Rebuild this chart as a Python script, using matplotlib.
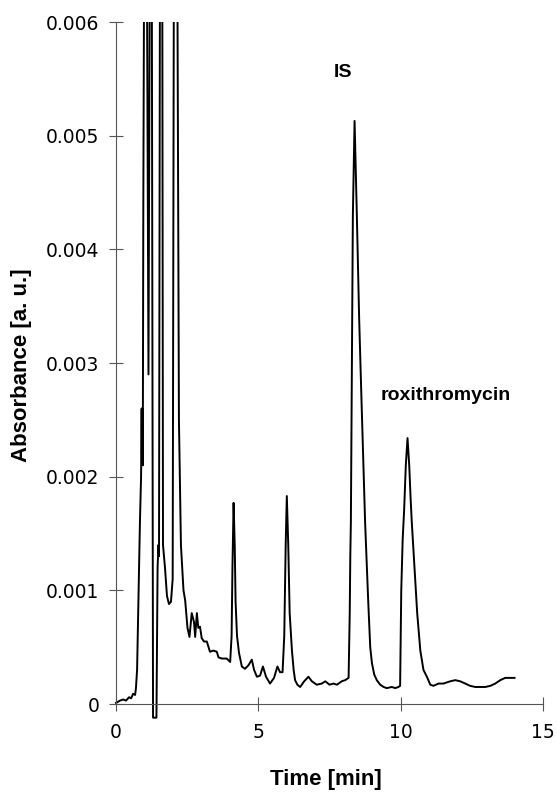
import numpy as np
import matplotlib
matplotlib.use("Agg")
import matplotlib.pyplot as plt
from matplotlib.patches import Rectangle

# chromatogram trace (time in min, absorbance in a.u.)
# values above 0.006 are the off-scale solvent front peaks
time_min = [
    0.00, 0.14, 0.25, 0.35, 0.46, 0.53, 0.60, 0.67, 0.70, 0.74,
    0.77, 0.81, 0.84, 0.88, 0.90, 0.91, 0.92, 0.94, 0.96, 1.00,
    1.07, 1.14, 1.20, 1.25, 1.30, 1.42, 1.46, 1.49, 1.51, 1.55,
    1.62, 1.65, 1.72, 1.79, 1.86, 1.93, 1.99, 2.04, 2.14, 2.21,
    2.28, 2.37, 2.43, 2.51, 2.58, 2.66, 2.74, 2.78, 2.84, 2.89,
    2.95, 3.01, 3.09, 3.19, 3.30, 3.42, 3.54, 3.60, 3.72, 3.89,
    4.01, 4.06, 4.09, 4.13, 4.17, 4.20, 4.25, 4.32, 4.42, 4.53,
    4.65, 4.77, 4.85, 4.95, 5.06, 5.16, 5.27, 5.41, 5.55, 5.67,
    5.76, 5.85, 5.91, 5.96, 6.00, 6.05, 6.10, 6.18, 6.24, 6.29,
    6.37, 6.47, 6.61, 6.76, 6.88, 7.05, 7.23, 7.35, 7.50, 7.64,
    7.76, 7.93, 8.05, 8.17, 8.21, 8.23, 8.25, 8.28, 8.32, 8.38,
    8.46, 8.54, 8.62, 8.75, 8.79, 8.86, 8.93, 8.99, 9.07, 9.16,
    9.28, 9.40, 9.51, 9.69, 9.81, 9.92, 9.98, 10.02, 10.07, 10.12,
    10.18, 10.24, 10.30, 10.35, 10.39, 10.45, 10.51, 10.58, 10.69, 10.80,
    10.92, 11.04, 11.15, 11.33, 11.50, 11.74, 11.92, 12.09, 12.27, 12.44,
    12.62, 12.79, 12.97, 13.15, 13.32, 13.50, 13.67, 13.85, 14.00,
]
absorbance = [
    0.00001, 0.00003, 0.00004, 0.00003, 0.00006, 0.00005, 0.00009, 0.00008, 0.00014, 0.0003,
    0.0007, 0.0012, 0.0016, 0.0020, 0.0026, 0.0022, 0.0026, 0.0021, 0.0045, 0.0075,
    0.0075, 0.0029, 0.0075, 0.0075, -0.00012, -0.00012, 0.0012, 0.0014, 0.0013, 0.0075,
    0.0075, 0.0014, 0.0012, 0.00095, 0.00088, 0.0009, 0.0011, 0.0075, 0.0075, 0.0025,
    0.0014, 0.0010, 0.00091, 0.00067, 0.00059, 0.0008, 0.00072, 0.00059, 0.0008, 0.00067,
    0.00068, 0.00058, 0.00055, 0.00055, 0.00046, 0.00047, 0.00046, 0.00041, 0.0004, 0.0004,
    0.00037, 0.0006, 0.0012, 0.00177, 0.0014, 0.0009, 0.0006, 0.00045, 0.00033, 0.00031,
    0.00034, 0.00039, 0.0003, 0.00024, 0.00025, 0.00033, 0.00024, 0.00018, 0.00023, 0.00033,
    0.00028, 0.00028, 0.0006, 0.0014, 0.00183, 0.0014, 0.0008, 0.00047, 0.0003, 0.00021,
    0.00017, 0.00015, 0.0002, 0.00024, 0.0002, 0.00017, 0.00018, 0.0002, 0.00017, 0.00018,
    0.00017, 0.0002, 0.00021, 0.00023, 0.0008, 0.0013, 0.0016, 0.0028, 0.0043, 0.00513,
    0.0043, 0.0034, 0.0027, 0.0016, 0.00135, 0.0009, 0.0005, 0.00036, 0.00026, 0.00021,
    0.00017, 0.00015, 0.00014, 0.00015, 0.00014, 0.00015, 0.00016, 0.0010, 0.00145, 0.0017,
    0.0021, 0.00234, 0.0021, 0.0018, 0.0016, 0.00135, 0.0011, 0.0008, 0.00047, 0.0003,
    0.00024, 0.00017, 0.00016, 0.00018, 0.00018, 0.0002, 0.00021, 0.0002, 0.00018, 0.00016,
    0.00015, 0.00015, 0.00015, 0.00016, 0.00018, 0.00021, 0.00023, 0.00023, 0.00023,
]

x_ticks = [0, 5, 10, 15]
y_ticks = [0, 0.001, 0.002, 0.003, 0.004, 0.005, 0.006]
y_tick_labels = ["0", "0.001", "0.002", "0.003", "0.004", "0.005", "0.006"]

peak_labels = ["IS", "roxithromycin"]
peak_label_pos = [(7.98, 0.00556), (11.6, 0.00271)]

fig = plt.figure(figsize=(5.57, 7.93), dpi=100)
ax = fig.add_axes([0.2083, 0.1122, 0.7666, 0.86])

line, = ax.plot(time_min, absorbance, color="black", lw=1.4)
# let the dips below zero show under the axis, but cut the tall peaks at the top
line.set_clip_path(Rectangle((-0.01, -0.04), 1.02, 1.04, transform=ax.transAxes))

ax.set_xlim(0, 15)
ax.set_ylim(0, 0.006)
ax.set_xticks(x_ticks)
ax.set_xticklabels([str(t) for t in x_ticks])
ax.set_yticks(y_ticks)
ax.set_yticklabels(y_tick_labels)

for side in ["top", "right"]:
    ax.spines[side].set_visible(False)
for side in ["left", "bottom"]:
    ax.spines[side].set_color("#555555")
    ax.spines[side].set_linewidth(0.8)

ax.tick_params(axis="both", direction="inout", length=10, width=0.8, color="#555555",
               labelsize=13.5, labelcolor="black")
ax.tick_params(axis="y", pad=7)
ax.tick_params(axis="x", pad=9)
for lab in ax.get_xticklabels() + ax.get_yticklabels():
    lab.set_family("DejaVu Sans")

for txt, (tx, ty) in zip(peak_labels, peak_label_pos):
    ax.text(tx, ty, txt, ha="center", va="center", fontsize=14,
            fontweight="bold", family="Liberation Sans")

fig.text(22 / 557, 1 - 365 / 793, "Absorbance [a. u.]", rotation=90, ha="center",
         va="center", fontsize=16, fontweight="bold", family="Liberation Sans")
fig.text(326 / 557, 1 - 780 / 793, "Time [min]", ha="center", va="center",
         fontsize=16, fontweight="bold", family="Liberation Sans")

fig.savefig("out.png", dpi=100)
